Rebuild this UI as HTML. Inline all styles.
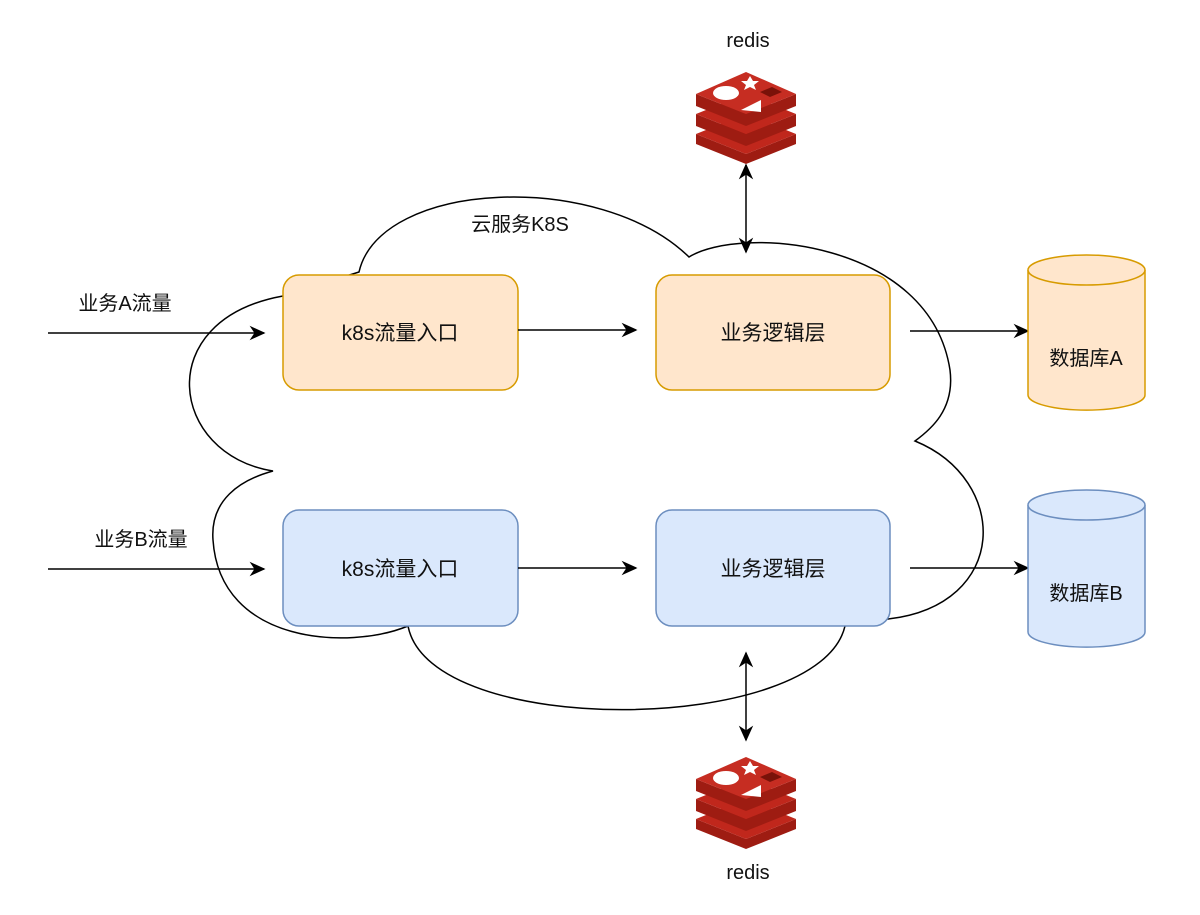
<!DOCTYPE html>
<html><head><meta charset="utf-8"><style>
body{margin:0;background:#fff;}
svg text{font-family:"Liberation Sans","Noto Sans CJK SC",sans-serif;fill:#111;}
</style></head><body>
<svg width="1200" height="910" viewBox="0 0 1200 910" xmlns="http://www.w3.org/2000/svg">
<defs>
<marker id="ah" viewBox="0 0 10 10" refX="9" refY="5" markerWidth="16" markerHeight="16" orient="auto-start-reverse" markerUnits="userSpaceOnUse"><path d="M0,0.5 L10,5 L0,9.5 L3,5 Z" fill="#000"/></marker>
<g id="redis">
<path d="M-50,24 L0,44 L50,24 L50,34 L0,54 L-50,34 Z" fill="#9e1c12"/>
<path d="M-50,24 L0,4 L50,24 L0,44 Z" fill="#c0271c"/>
<path d="M-50,4 L0,24 L50,4 L50,16 L0,36 L-50,16 Z" fill="#9e1c12"/>
<path d="M-50,4 L0,-16 L50,4 L0,24 Z" fill="#c0271c"/>
<path d="M-50,-16 L0,4 L50,-16 L50,-4 L0,16 L-50,-4 Z" fill="#9e1c12"/>
<path d="M-50,-16 L0,-38 L50,-16 L0,4 Z" fill="#c62d22"/>
<ellipse cx="-20" cy="-17" rx="13" ry="7" fill="#fff"/>
<path d="M-5,0 L15,-10 L15,2 Z" fill="#fff"/>
<path d="M4,-34 L7,-29 L13,-29 L8,-25 L10,-20 L4,-23 L-2,-20 L0,-25 L-5,-29 L1,-29 Z" fill="#fff"/>
<path d="M14,-18 L26,-23 L36,-18 L24,-13 Z" fill="#7a1209"/>
</g>
</defs>
<path d="M273,471 C170,455 150,320 283,296 L359,272 C380,180 600,170 689,257 C740,225 930,240 950,370 C955,410 930,430 915,441 C1010,480 1010,605 888,619 L845,626 C820,735 430,740 408,626 C350,650 220,645 213,540 C210,500 240,480 273,471 Z" fill="#fff" stroke="#000" stroke-width="1.5"/>
<text x="520" y="231" font-size="20" text-anchor="middle">云服务K8S</text>
<rect x="283" y="275" width="235" height="115" rx="16" fill="#ffe6cc" stroke="#d79b00" stroke-width="1.5"/>
<rect x="656" y="275" width="234" height="115" rx="16" fill="#ffe6cc" stroke="#d79b00" stroke-width="1.5"/>
<rect x="283" y="510" width="235" height="116" rx="16" fill="#dae8fc" stroke="#6c8ebf" stroke-width="1.5"/>
<rect x="656" y="510" width="234" height="116" rx="16" fill="#dae8fc" stroke="#6c8ebf" stroke-width="1.5"/>
<text x="400" y="340" font-size="21" text-anchor="middle">k8s流量入口</text>
<text x="773" y="340" font-size="21" text-anchor="middle">业务逻辑层</text>
<text x="400" y="576" font-size="21" text-anchor="middle">k8s流量入口</text>
<text x="773" y="576" font-size="21" text-anchor="middle">业务逻辑层</text>
<g stroke="#000" stroke-width="1.5" fill="none">
<line x1="48" y1="333" x2="264" y2="333" marker-end="url(#ah)"/>
<line x1="48" y1="569" x2="264" y2="569" marker-end="url(#ah)"/>
<line x1="518" y1="330" x2="636" y2="330" marker-end="url(#ah)"/>
<line x1="518" y1="568" x2="636" y2="568" marker-end="url(#ah)"/>
<line x1="910" y1="331" x2="1028" y2="331" marker-end="url(#ah)"/>
<line x1="910" y1="568" x2="1028" y2="568" marker-end="url(#ah)"/>
<line x1="746" y1="165" x2="746" y2="252" marker-start="url(#ah)" marker-end="url(#ah)"/>
<line x1="746" y1="653" x2="746" y2="740" marker-start="url(#ah)" marker-end="url(#ah)"/>
</g>
<text x="125" y="310" font-size="20" text-anchor="middle">业务A流量</text>
<text x="141" y="546" font-size="20" text-anchor="middle">业务B流量</text>
<path d="M1028,270 L1028,395 A58,15 0 0 0 1145,395 L1145,270" fill="#ffe6cc" stroke="#d79b00" stroke-width="1.5"/>
<ellipse cx="1086.5" cy="270" rx="58.5" ry="15" fill="#ffe6cc" stroke="#d79b00" stroke-width="1.5"/>
<path d="M1028,505 L1028,632 A58,15 0 0 0 1145,632 L1145,505" fill="#dae8fc" stroke="#6c8ebf" stroke-width="1.5"/>
<ellipse cx="1086.5" cy="505" rx="58.5" ry="15" fill="#dae8fc" stroke="#6c8ebf" stroke-width="1.5"/>
<text x="1086" y="365" font-size="20" text-anchor="middle">数据库A</text>
<text x="1086" y="600" font-size="20" text-anchor="middle">数据库B</text>
<use href="#redis" x="746" y="110"/>
<use href="#redis" x="746" y="795"/>
<text x="748" y="47" font-size="20" text-anchor="middle">redis</text>
<text x="748" y="879" font-size="20" text-anchor="middle">redis</text>
</svg>
</body></html>
